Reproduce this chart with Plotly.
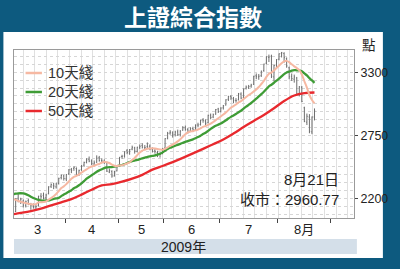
import pandas as pd
import plotly.graph_objects as go

# ---------------- data ----------------
holidays = ["2009-04-06", "2009-05-01", "2009-05-28", "2009-05-29"]
calendar = [d for d in pd.bdate_range("2009-03-02", "2009-09-11").strftime("%Y-%m-%d")
            if d not in holidays]
pos = {d: k for k, d in enumerate(calendar)}

opens = [
    2082, 2080, 2085, 2200, 2170, 2175, 2135, 2180, 2145, 2140,
    2125, 2135, 2220, 2225, 2205, 2240, 2305, 2310, 2300, 2330,
    2380, 2395,
    2370, 2415, 2450, 2460, 2460, 2410, 2450, 2490, 2515, 2540,
    2525, 2500, 2515, 2555, 2530, 2525, 2510, 2430, 2435, 2395,
    2440,
    2490, 2565, 2570, 2615, 2595, 2630, 2640, 2610, 2645, 2660,
    2640, 2650, 2655, 2630, 2615, 2600, 2590, 2590,
    2640, 2725, 2770, 2770, 2755, 2780, 2755, 2795, 2815, 2800,
    2790, 2810, 2800, 2840, 2845, 2885, 2875, 2860, 2925, 2910,
    2935, 2980,
    2960, 2990, 3015, 3065, 3090, 3070, 3055, 3060, 3110, 3080,
    3160, 3170, 3180, 3195, 3270, 3260, 3270, 3315, 3380, 3430,
    3440, 3260, 3365,
    3415, 3465, 3465, 3420, 3340, 3265, 3240, 3250, 3105, 3170,
    2990, 2865, 2910, 2780, 2910,
]
highs = [
    2110, 2095, 2200, 2238, 2205, 2190, 2180, 2195, 2160, 2155,
    2150, 2222, 2245, 2250, 2240, 2305, 2330, 2335, 2335, 2380,
    2410, 2405,
    2412, 2455, 2465, 2480, 2470, 2450, 2490, 2520, 2550, 2565,
    2540, 2530, 2575, 2570, 2550, 2540, 2520, 2460, 2445, 2440,
    2480,
    2560, 2580, 2610, 2630, 2630, 2660, 2650, 2650, 2670, 2680,
    2665, 2688, 2670, 2645, 2630, 2615, 2600, 2640,
    2725, 2780, 2795, 2785, 2790, 2800, 2795, 2830, 2835, 2815,
    2820, 2825, 2845, 2860, 2885, 2900, 2890, 2930, 2940, 2940,
    2980, 2990,
    2995, 3015, 3065, 3095, 3100, 3085, 3075, 3120, 3125, 3160,
    3185, 3190, 3200, 3270, 3290, 3285, 3315, 3375, 3440, 3455,
    3454, 3365, 3415,
    3465, 3478, 3475, 3430, 3350, 3290, 3280, 3260, 3180, 3180,
    3000, 2940, 2935, 2915, 2985,
]
lows = [
    2060, 2037, 2080, 2165, 2150, 2120, 2120, 2140, 2100, 2110,
    2098, 2130, 2195, 2190, 2185, 2235, 2290, 2280, 2285, 2320,
    2365, 2355,
    2350, 2405, 2420, 2440, 2400, 2395, 2440, 2475, 2505, 2515,
    2490, 2480, 2510, 2520, 2505, 2500, 2430, 2420, 2380, 2390,
    2435,
    2488, 2545, 2555, 2585, 2580, 2620, 2590, 2600, 2630, 2635,
    2620, 2640, 2620, 2600, 2590, 2560, 2555, 2585,
    2640, 2715, 2755, 2730, 2740, 2745, 2740, 2790, 2790, 2765,
    2780, 2785, 2795, 2820, 2835, 2860, 2840, 2855, 2890, 2900,
    2930, 2945,
    2950, 2975, 3010, 3050, 3060, 3030, 3035, 3055, 3065, 3075,
    3150, 3155, 3165, 3190, 3240, 3235, 3260, 3305, 3370, 3390,
    3250, 3225, 3345,
    3405, 3430, 3385, 3340, 3240, 3225, 3210, 3100, 3090, 3040,
    2865, 2840, 2768, 2760, 2880,
]
closes = [
    2093, 2071, 2197, 2181, 2193, 2139, 2173, 2150, 2134, 2128,
    2128, 2218, 2214, 2203, 2229, 2300, 2320, 2307, 2325, 2374,
    2399, 2373,
    2408, 2449, 2444, 2471, 2407, 2444, 2482, 2513, 2535, 2525,
    2505, 2510, 2550, 2530, 2526, 2519, 2437, 2441, 2395, 2433,
    2477,
    2559, 2567, 2607, 2600, 2625, 2645, 2612, 2646, 2654, 2646,
    2644, 2650, 2631, 2610, 2609, 2594, 2583, 2633,
    2721, 2767, 2777, 2753, 2779, 2758, 2787, 2816, 2801, 2786,
    2808, 2797, 2840, 2840, 2880, 2881, 2856, 2924, 2906, 2930,
    2975, 2959,
    2988, 3009, 3060, 3088, 3076, 3056, 3053, 3112, 3075, 3154,
    3171, 3176, 3189, 3266, 3262, 3266, 3310, 3372, 3435, 3434,
    3266, 3360, 3412,
    3462, 3471, 3428, 3356, 3261, 3246, 3259, 3112, 3173, 3046,
    2870, 2916, 2785, 2910, 2961,
]

ma10 = [
    2199, 2195, 2186, 2177, 2170, 2164, 2158, 2153, 2149,
    2146, 2149, 2164, 2166, 2168, 2172, 2188, 2202, 2218, 2237,
    2262, 2289, 2304, 2324, 2348, 2370, 2387, 2396, 2409, 2425,
    2439, 2453, 2468, 2478, 2484, 2494, 2500, 2512, 2520, 2515,
    2508, 2494, 2485, 2482, 2487, 2488, 2496, 2504, 2514, 2535,
    2552, 2577, 2599, 2616, 2625, 2633, 2635, 2636, 2635, 2630,
    2627, 2625, 2632, 2644, 2658, 2668, 2683, 2697, 2715, 2737,
    2759, 2775, 2783, 2786, 2793, 2801, 2811, 2824, 2831, 2841,
    2852, 2866, 2883, 2899, 2914, 2931, 2949, 2970, 2992, 3005,
    3019, 3038, 3048, 3067, 3085, 3102, 3115, 3133, 3151, 3172,
    3198, 3224, 3260, 3288, 3298, 3316, 3338, 3358, 3379, 3395,
    3400, 3389, 3370, 3352, 3337, 3318, 3281, 3222, 3167, 3102,
    3058, 3028,
]
ma20 = [
    2232, 2236, 2240, 2243, 2244, 2242, 2236, 2226, 2214, 2203,
    2194, 2187, 2182, 2179, 2179, 2182, 2188, 2194, 2199,
    2204, 2219, 2234, 2245, 2258, 2271, 2287, 2299, 2314, 2331,
    2350, 2371, 2386, 2401, 2416, 2432, 2444, 2454, 2464, 2470,
    2473, 2473, 2476, 2480, 2485, 2491, 2498, 2508, 2517, 2525,
    2530, 2535, 2542, 2549, 2556, 2561, 2566, 2570, 2574, 2582,
    2589, 2601, 2616, 2630, 2641, 2650, 2659, 2667, 2675, 2684,
    2693, 2700, 2708, 2715, 2725, 2735, 2747, 2761, 2773, 2789,
    2806, 2820, 2833, 2843, 2853, 2866, 2880, 2897, 2911, 2923,
    2936, 2952, 2965, 2983, 3000, 3016, 3032, 3051, 3071, 3089,
    3109, 3131, 3154, 3178, 3192, 3209, 3227, 3245, 3265, 3284,
    3299, 3306, 3315, 3320, 3317, 3317, 3310, 3290, 3273, 3249,
    3229, 3208,
]
ma50_dates = [
    "2009-03-02", "2009-03-06", "2009-03-12", "2009-03-18", "2009-03-24",
    "2009-03-30", "2009-04-03", "2009-04-10", "2009-04-16", "2009-04-22",
    "2009-04-28", "2009-05-05", "2009-05-11", "2009-05-15", "2009-05-21",
    "2009-05-27", "2009-06-04", "2009-06-10", "2009-06-16", "2009-06-22",
    "2009-06-26", "2009-07-02", "2009-07-08", "2009-07-14", "2009-07-20",
    "2009-07-24", "2009-07-30", "2009-08-05", "2009-08-11", "2009-08-17",
    "2009-08-21",
]
ma50 = [
    2058, 2072, 2088, 2110, 2138, 2165, 2193, 2232, 2275, 2312,
    2324, 2345, 2372, 2405, 2450, 2482, 2516, 2553, 2592, 2632,
    2672, 2713, 2765, 2822, 2875, 2928, 2987, 3050, 3098, 3119,
    3124,
]

month_labels = ["3", "4", "5", "6", "7", "8月"]
month_starts = ["2009-03", "2009-04", "2009-05", "2009-06", "2009-07", "2009-08", "2009-09"]
y_ticks = [2200, 2750, 3300]
legend_names = ["10天綫", "20天綫", "50天綫"]
ma_colors = ["#f6b8a2", "#3f9c36", "#e8292e"]
year_label = "2009年"
close_date_label = "8月21日"
close_value_label = "收市：2960.77"
title_text = "上證綜合指數"
unit_label = "點"

# ---------------- geometry helpers ----------------
W, H = 400, 269
ML, MR, MT, MB = 14, 33, 50, 51
PW, PH = W - ML - MR, H - MT - MB


def px(x):
    return (x - ML) / PW


def py(y):
    return (H - MB - y) / PH


FONT = "Liberation Sans, Arial, Noto Sans CJK TC, sans-serif"
TXT = "#222222"

x_data = [pos[d] for d in calendar[:len(closes)]]
x_ma50 = [pos[d] for d in ma50_dates]

# month boundaries (first trading day of each month, minus half a day)
bounds = []
for m in month_starts:
    first = next(k for k, d in enumerate(calendar) if d.startswith(m))
    bounds.append(first - 0.5)
mids = [(bounds[k] + bounds[k + 1]) / 2 for k in range(len(month_labels))]

fig = go.Figure()
fig.add_trace(go.Ohlc(
    x=x_data, open=opens, high=highs, low=lows, close=closes,
    increasing=dict(line=dict(color="#6e6e6e", width=1)),
    decreasing=dict(line=dict(color="#6e6e6e", width=1)),
    tickwidth=0.3, showlegend=False, hoverinfo="skip",
))
fig.add_trace(go.Scatter(x=x_ma50, y=ma50, mode="lines",
                         line=dict(color=ma_colors[2], width=2.3, shape="spline", smoothing=1),
                         showlegend=False, hoverinfo="skip"))
fig.add_trace(go.Scatter(x=x_data, y=ma20, mode="lines",
                         line=dict(color=ma_colors[1], width=2.3, shape="spline", smoothing=0.6),
                         showlegend=False, hoverinfo="skip"))
fig.add_trace(go.Scatter(x=x_data, y=ma10, mode="lines",
                         line=dict(color=ma_colors[0], width=2, shape="spline", smoothing=0.6),
                         showlegend=False, hoverinfo="skip"))

shapes = [
    dict(type="rect", xref="paper", yref="paper", x0=px(3), x1=px(397), y0=py(258), y1=py(32),
         fillcolor="white", line=dict(width=0), layer="below"),
    dict(type="rect", xref="paper", yref="paper", x0=px(14), x1=px(370), y0=py(254), y1=py(239),
         fillcolor="#d4dfe9", line=dict(width=0), layer="below"),
]
annotations = [
    dict(text=title_text, x=px(200), y=py(16), xref="paper", yref="paper", showarrow=False,
         font=dict(family="Noto Sans CJK TC", size=23, color="white", weight="bold"),
         xanchor="center", yanchor="middle"),
    dict(text=unit_label, x=px(383), y=py(45), xref="paper", yref="paper", showarrow=False,
         font=dict(family=FONT, size=13.5, color=TXT), xanchor="center", yanchor="middle"),
    dict(text=year_label, x=px(190), y=py(246.5), xref="paper", yref="paper", showarrow=False,
         font=dict(family=FONT, size=14, color=TXT), xanchor="center", yanchor="middle"),
    dict(text=close_date_label, x=px(353), y=py(179), xref="paper", yref="paper", showarrow=False,
         font=dict(family=FONT, size=15, color=TXT), xanchor="right", yanchor="middle"),
    dict(text=close_value_label, x=px(354), y=py(199.5), xref="paper", yref="paper", showarrow=False,
         font=dict(family=FONT, size=15, color=TXT), xanchor="right", yanchor="middle"),
]
for lab, xm in zip(month_labels, mids):
    annotations.append(dict(text=lab, x=xm, y=py(229.5), xref="x", yref="paper", showarrow=False,
                            font=dict(family=FONT, size=13, color=TXT),
                            xanchor="center", yanchor="middle"))
for k, (name, col) in enumerate(zip(legend_names, ma_colors)):
    yy = 73 + 19 * k
    shapes.append(dict(type="line", xref="paper", yref="paper", x0=px(26), x1=px(43),
                       y0=py(yy), y1=py(yy), line=dict(color=col, width=2.5)))
    annotations.append(dict(text=name, x=px(47), y=py(yy), xref="paper", yref="paper",
                            showarrow=False, font=dict(family=FONT, size=14.5, color="#333333"),
                            xanchor="left", yanchor="middle"))

fig.update_layout(
    width=W, height=H,
    margin=dict(l=ML, r=MR, t=MT, b=MB, pad=0),
    paper_bgcolor="#0d5a7f", plot_bgcolor="white",
    showlegend=False,
    shapes=shapes, annotations=annotations,
    font=dict(family=FONT, color=TXT),
    xaxis=dict(
        range=[1.34, 135.6], tickmode="array", tickvals=bounds[1:], showticklabels=False,
        ticks="outside", ticklen=4, tickcolor="#444", showgrid=False, zeroline=False,
        showline=True, mirror=True, linecolor="#9a9a9a", linewidth=1,
        rangeslider=dict(visible=False),
        minor=dict(tick0=4.9, dtick=4.58, showgrid=True, gridcolor="#e0e0e0", gridwidth=1, ticks=""),
    ),
    yaxis=dict(
        range=[2028, 3495], side="right", tickmode="array", tickvals=y_ticks,
        ticktext=[str(v) for v in y_ticks], ticks="outside", ticklen=3, tickcolor="#444",
        tickfont=dict(family=FONT, size=12.5, color=TXT),
        showgrid=True, gridcolor="#d6d6d6", griddash="dot", gridwidth=1, zeroline=False,
        showline=True, mirror=True, linecolor="#9a9a9a", linewidth=1,
        minor=dict(tick0=2200, dtick=68.75, showgrid=True, gridcolor="#d6d6d6",
                   griddash="dot", gridwidth=1, ticks=""),
    ),
)

fig.write_html("out.html")
